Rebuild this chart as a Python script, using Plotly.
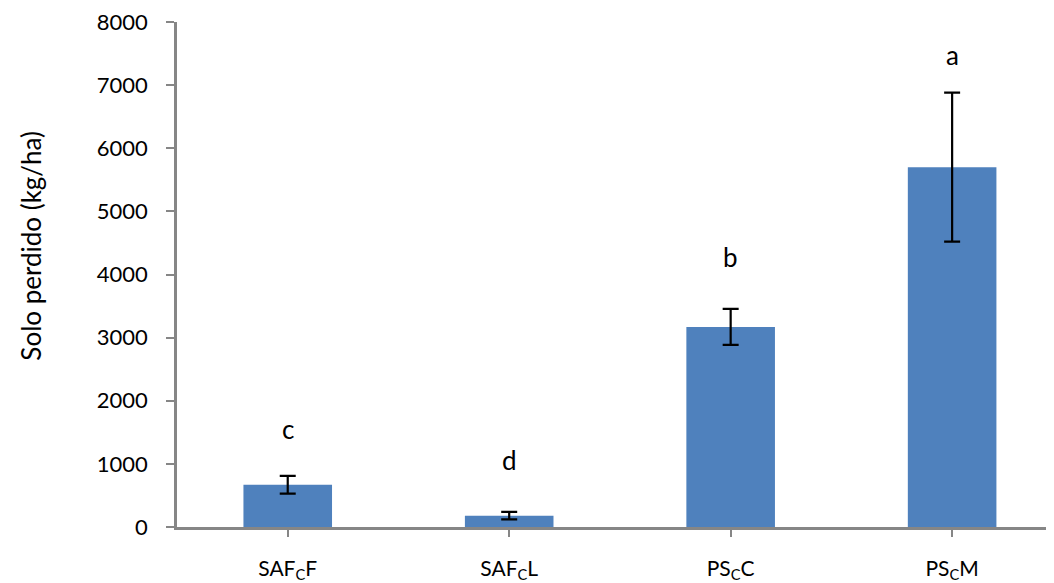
import plotly.graph_objects as go

categories = ["SAF<sub>C</sub>F", "SAF<sub>C</sub>L", "PS<sub>C</sub>C", "PS<sub>C</sub>M"]
values = [670, 180, 3170, 5700]
errors = [140, 60, 285, 1180]
letters = ["c", "d", "b", "a"]
letter_y = [1560, 1060, 4280, 7480]
y_ticks = [0, 1000, 2000, 3000, 4000, 5000, 6000, 7000, 8000]
y_title = "Solo perdido (kg/ha)"

FONT = "Lato, 'Open Sans', sans-serif"
AXIS_COLOR = "#868686"

fig = go.Figure()
fig.add_trace(go.Bar(
    x=list(range(len(categories))),
    y=values,
    width=0.4,
    marker=dict(color="#4F81BD", line=dict(width=0)),
    error_y=dict(type="data", array=errors, visible=True,
                 color="#000000", thickness=2.2, width=8),
    showlegend=False,
))

for i, (lt, ly) in enumerate(zip(letters, letter_y)):
    fig.add_annotation(x=i, y=ly, text=lt, showarrow=False,
                       font=dict(family=FONT, size=26, color="#000000"))

fig.add_annotation(
    xref="paper", yref="paper", x=-0.166, y=0.558,
    xanchor="center", yanchor="middle", textangle=-90,
    text=y_title, showarrow=False,
    font=dict(family=FONT, size=26, color="#000000"),
)

fig.update_layout(
    width=1046, height=575,
    margin=dict(l=169, r=0, t=12, b=46),
    paper_bgcolor="white", plot_bgcolor="white",
    font=dict(family=FONT, color="#000000"),
)
fig.update_xaxes(
    range=[-0.5, 3.46],
    tickmode="array",
    tickvals=list(range(len(categories))),
    ticktext=categories,
    tickson="boundaries",
    ticks="outside", ticklen=7, tickwidth=2, tickcolor=AXIS_COLOR,
    showline=True, linecolor=AXIS_COLOR, linewidth=2.5,
    showgrid=False, zeroline=False,
    tickfont=dict(family=FONT, size=21, color="#000000"),
    ticklabelstandoff=14,
    ticklabeloverflow="allow",
)
fig.update_yaxes(
    range=[0, 8000],
    tickmode="array", tickvals=y_ticks,
    ticktext=[str(v) for v in y_ticks],
    ticks="outside", ticklen=8, tickwidth=2, tickcolor=AXIS_COLOR,
    showline=True, linecolor=AXIS_COLOR, linewidth=2.5,
    showgrid=False, zeroline=False,
    tickfont=dict(family=FONT, size=22, color="#000000"),
    ticklabelstandoff=14,
    ticklabeloverflow="allow",
)

fig.write_html("out.html")
